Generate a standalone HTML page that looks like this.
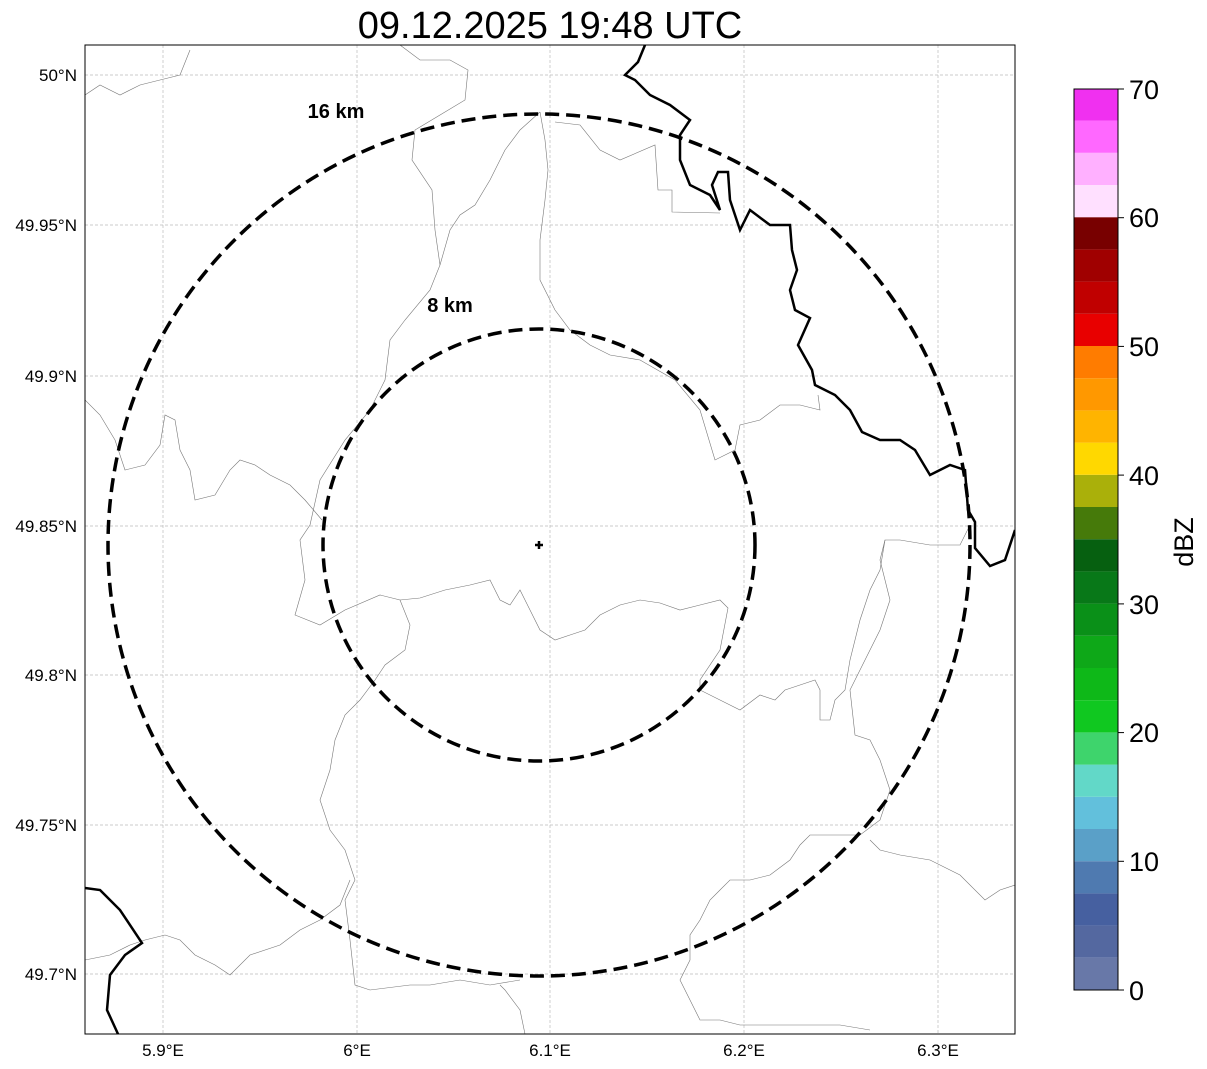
<!DOCTYPE html>
<html><head><meta charset="utf-8"><style>
body{margin:0;background:#fff;}
svg{display:block;font-family:"Liberation Sans","DejaVu Sans",sans-serif;}
</style></head><body>
<svg width="1207" height="1069" viewBox="0 0 1207 1069" xmlns="http://www.w3.org/2000/svg">
<rect width="1207" height="1069" fill="#fff"/>
<text x="550" y="38" font-size="38" text-anchor="middle">09.12.2025 19:48 UTC</text>
<defs><clipPath id="c"><rect x="85" y="45" width="930" height="989"/></clipPath></defs>
<g stroke="#bbb" stroke-width="0.7" stroke-dasharray="3,2">
<line x1="163" y1="45" x2="163" y2="1034"/><line x1="357" y1="45" x2="357" y2="1034"/>
<line x1="550" y1="45" x2="550" y2="1034"/><line x1="744" y1="45" x2="744" y2="1034"/>
<line x1="938" y1="45" x2="938" y2="1034"/>
<line x1="85" y1="75" x2="1015" y2="75"/><line x1="85" y1="225" x2="1015" y2="225"/>
<line x1="85" y1="376" x2="1015" y2="376"/><line x1="85" y1="526" x2="1015" y2="526"/>
<line x1="85" y1="675" x2="1015" y2="675"/><line x1="85" y1="825" x2="1015" y2="825"/>
<line x1="85" y1="974" x2="1015" y2="974"/>
</g>
<g clip-path="url(#c)" fill="none">
<g stroke="#777" stroke-width="0.6">
<polyline points="85,95 100,85 120,95 140,85 160,80 180,75 190,50"/>
<polyline points="400,45 420,60 450,60 468,70 465,100 440,115 415,130 412,160 432,190 435,230 440,265 430,290 405,320 390,340 385,380 370,410 345,440 320,480 310,525 300,540 305,580 295,615 320,625 345,610 380,595 400,600 410,625 405,650 385,665 375,680 360,700 345,715 335,740 330,770 320,800 330,830 345,850 355,880 345,900 350,940 355,985 370,990 410,985 430,985 460,980 490,985 520,980"/>
<polyline points="85,400 100,415 115,440 125,470 145,465 160,445 165,415 175,420 180,450 190,470 195,500 215,495 230,470 240,460 255,465 270,475 290,485 305,500 322,520"/>
<polyline points="400,600 420,598 445,590 470,585 490,580 500,600 510,605 520,590 530,610 540,630 555,640 570,635 585,630 600,615 620,605 640,600 660,603 680,610 700,605 720,600 728,608 720,650 700,680 700,690 720,700 740,710 760,695 775,700 785,690 800,685 815,680 820,690 820,720 830,720 835,700 845,690 850,660 860,620 870,590 880,570 885,540 900,540 930,545 960,545 970,525"/>
<polyline points="885,540 880,560 890,600 880,630 865,660 850,690 855,735 870,740 880,760 890,790 880,820 860,835 835,835 810,835 800,845 790,860 770,875 750,880 730,880 720,890 710,900 700,920 690,935 690,960 680,980 690,1000 700,1020 720,1020 740,1025 770,1025 800,1025 840,1025 870,1030"/>
<polyline points="870,840 880,850 900,855 930,860 960,875 985,900 1000,890 1015,885"/>
<polyline points="85,960 110,955 130,945 145,940 165,935 180,940 195,955 215,965 230,975 250,955 280,945 300,930 320,920 340,905 350,880"/>
<polyline points="525,1034 520,1010 505,990 500,985"/>
<polyline points="540,112 545,140 548,170 545,200 540,240 540,280 555,310 570,330 590,345 610,355 640,360 675,380 700,410 715,460 735,450 740,425 760,420 780,405 800,405 820,410 818,395"/>
<polyline points="540,112 520,130 505,150 490,180 475,205 460,215 450,230 440,265"/>
<polyline points="555,122 580,125 600,150 620,160 655,145 658,190 672,190 672,212 720,213"/>
</g>
<polyline stroke="#000" stroke-width="2.5" points="645,45 638,62 625,75 635,80 650,95 670,105 690,120 680,135 680,160 690,185 710,195 720,210 712,185 718,172 728,172 730,200 740,230 750,210 770,225 790,225 792,250 797,270 790,290 795,310 810,318 798,345 812,370 815,385 835,395 850,410 862,432 880,440 900,440 915,450 930,475 950,465 965,470 968,510 975,522 975,548 990,566 1005,560 1015,530"/>
<polyline stroke="#000" stroke-width="2.5" points="85,888 100,890 120,910 142,943 125,955 110,975 107,1010 118,1034"/>
<circle cx="539" cy="545" r="431" stroke="#000" stroke-width="3.5" stroke-dasharray="14,7"/>
<circle cx="539" cy="545" r="216" stroke="#000" stroke-width="3.5" stroke-dasharray="14,7"/>
<path d="M535 545h8M539 541v8" stroke="#000" stroke-width="2.5"/>
</g>
<text x="336" y="118" font-size="20" font-weight="bold" text-anchor="middle">16 km</text>
<text x="450" y="312" font-size="20" font-weight="bold" text-anchor="middle">8 km</text>
<rect x="85" y="45" width="930" height="989" fill="none" stroke="#000" stroke-width="1"/>
<g font-size="17" text-anchor="middle">
<text x="163" y="1056">5.9°E</text><text x="357" y="1056">6°E</text><text x="550" y="1056">6.1°E</text><text x="744" y="1056">6.2°E</text><text x="938" y="1056">6.3°E</text>
</g>
<g font-size="17" text-anchor="end">
<text x="77" y="81">50°N</text><text x="77" y="231">49.95°N</text><text x="77" y="382">49.9°N</text><text x="77" y="532">49.85°N</text><text x="77" y="681">49.8°N</text><text x="77" y="831">49.75°N</text><text x="77" y="980">49.7°N</text>
</g>
<g>
<rect x="1074" y="957.8" width="44" height="32.2" fill="#6878a8"/>
<rect x="1074" y="925.6" width="44" height="32.2" fill="#5468a0"/>
<rect x="1074" y="893.4" width="44" height="32.2" fill="#4660a0"/>
<rect x="1074" y="861.2" width="44" height="32.2" fill="#4f7ab0"/>
<rect x="1074" y="829" width="44" height="32.2" fill="#5aa0c8"/>
<rect x="1074" y="796.8" width="44" height="32.2" fill="#62c0dc"/>
<rect x="1074" y="764.6" width="44" height="32.2" fill="#62d8c8"/>
<rect x="1074" y="732.4" width="44" height="32.2" fill="#3ed46c"/>
<rect x="1074" y="700.2" width="44" height="32.2" fill="#10c820"/>
<rect x="1074" y="668" width="44" height="32.2" fill="#0eb818"/>
<rect x="1074" y="635.8" width="44" height="32.2" fill="#0ea818"/>
<rect x="1074" y="603.6" width="44" height="32.2" fill="#0a9018"/>
<rect x="1074" y="571.4" width="44" height="32.2" fill="#087818"/>
<rect x="1074" y="539.2" width="44" height="32.2" fill="#066010"/>
<rect x="1074" y="507" width="44" height="32.2" fill="#467a0a"/>
<rect x="1074" y="474.8" width="44" height="32.2" fill="#aab00a"/>
<rect x="1074" y="442.6" width="44" height="32.2" fill="#ffd800"/>
<rect x="1074" y="410.4" width="44" height="32.2" fill="#ffb400"/>
<rect x="1074" y="378.2" width="44" height="32.2" fill="#ff9800"/>
<rect x="1074" y="346" width="44" height="32.2" fill="#ff7c00"/>
<rect x="1074" y="313.8" width="44" height="32.2" fill="#e80000"/>
<rect x="1074" y="281.6" width="44" height="32.2" fill="#c00000"/>
<rect x="1074" y="249.4" width="44" height="32.2" fill="#a00000"/>
<rect x="1074" y="217.2" width="44" height="32.2" fill="#780000"/>
<rect x="1074" y="185" width="44" height="32.2" fill="#ffe0ff"/>
<rect x="1074" y="152.8" width="44" height="32.2" fill="#ffb0ff"/>
<rect x="1074" y="120.6" width="44" height="32.2" fill="#ff68ff"/>
<rect x="1074" y="89" width="44" height="31.6" fill="#f030f0"/>
<rect x="1074" y="89" width="44" height="901" fill="none" stroke="#000" stroke-width="1"/>
</g>
<g stroke="#000" stroke-width="1">
<line x1="1118" y1="990" x2="1124" y2="990"/><line x1="1118" y1="861.3" x2="1124" y2="861.3"/><line x1="1118" y1="732.6" x2="1124" y2="732.6"/><line x1="1118" y1="603.9" x2="1124" y2="603.9"/><line x1="1118" y1="475.1" x2="1124" y2="475.1"/><line x1="1118" y1="346.4" x2="1124" y2="346.4"/><line x1="1118" y1="217.7" x2="1124" y2="217.7"/><line x1="1118" y1="89" x2="1124" y2="89"/>
</g>
<g font-size="27">
<text x="1129" y="1000">0</text><text x="1129" y="871">10</text><text x="1129" y="742">20</text><text x="1129" y="614">30</text><text x="1129" y="485">40</text><text x="1129" y="356">50</text><text x="1129" y="227">60</text><text x="1129" y="99">70</text>
</g>
<text transform="translate(1193,542) rotate(-90)" font-size="27" text-anchor="middle">dBZ</text>
</svg>
</body></html>
